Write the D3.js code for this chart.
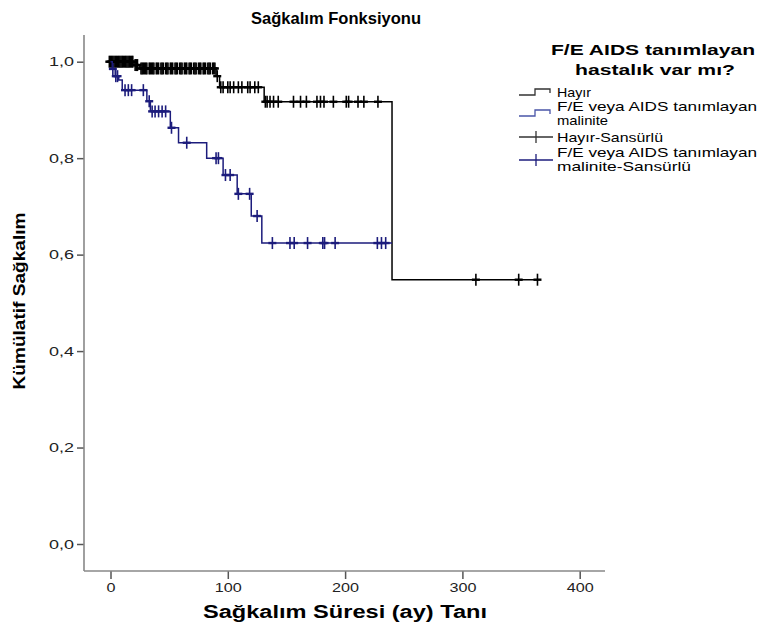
<!DOCTYPE html>
<html>
<head>
<meta charset="utf-8">
<script src="https://cdn.jsdelivr.net/npm/d3@7"></script>
<style>
  body { margin: 0; background: #fff; }
  text { font-family: "Liberation Sans", Arial, sans-serif; }
</style>
</head>
<body>
<svg id="chart" width="770" height="630"></svg>
<script>
// Kaplan-Meier steps
var hayirTimes = [0, 20, 25, 90, 93, 131, 240];
var hayirSurv = [1.0, 0.993, 0.986, 0.970, 0.947, 0.917, 0.548];
var hayirEnd = 364;
var hayirCensored = [-1, 0, 1, 2, 3, 4, 5, 6, 7, 8, 9, 10, 11, 12, 13, 14, 15, 16, 17, 18, 19, 21, 22, 23,
	26, 27, 28, 29, 30, 31, 33, 34, 35, 36, 37, 39, 40, 41, 43, 44, 45, 47, 48, 49, 51, 52, 53, 55, 56,
	57, 59, 60, 61, 63, 64, 65, 67, 68, 69, 71, 72, 73, 75, 76, 77, 79, 80, 81, 83, 84, 85, 87, 88, 89,
	91, 94, 96, 100, 102, 105, 109, 112, 117, 119, 123, 126,
	132, 133.5, 136, 139, 143, 156, 162, 167, 176, 179, 182, 190, 201, 203, 211, 216, 228,
	311.5, 348, 364];

var malTimes = [0, 1.5, 4, 7, 10, 31, 34, 51, 58, 82, 96, 108, 120, 129];
var malSurv = [1.0, 0.985, 0.970, 0.962, 0.941, 0.918, 0.897, 0.863, 0.832, 0.800, 0.765, 0.726, 0.680, 0.624];
var malEnd = 240;
var malCensored = [2, 4.5, 6, 12.4, 15.2, 18, 28, 33, 35.5, 38, 41, 44, 47, 52, 65, 90, 92,
	98, 102, 109, 118.6, 125, 138, 153, 156.6, 168, 181, 182.5, 191.5, 227.5, 231, 234.6];

var xTicks = [0, 100, 200, 300, 400];
var yTicks = [0, 0.2, 0.4, 0.6, 0.8, 1.0];

var legendTitle = ["F/E AIDS tanımlayan", "hastalık var mı?"];
var legendItems = ["Hayır", "F/E veya AIDS tanımlayan|malinite", "Hayır-Sansürlü", "F/E veya AIDS tanımlayan|malinite-Sansürlü"];

var black = "#000", navy = "#1c1c7c";

var svg = d3.select("#chart");
svg.append("rect").attr("width", 770).attr("height", 630).attr("fill", "#fff");

var x = d3.scaleLinear().domain([0, 400]).range([110.5, 579.7]);
var y = d3.scaleLinear().domain([0, 1]).range([544, 61.7]);

// stretched text like the original export
function txt(g, s, px, py, len, size, weight, anchor) {
	return g.append("text").attr("x", px).attr("y", py).text(s)
		.attr("font-size", size).attr("font-weight", weight || "normal")
		.attr("text-anchor", anchor || "start")
		.attr("textLength", len).attr("lengthAdjust", "spacingAndGlyphs")
		.attr("fill", "#000");
}

// axes
var yAxis = svg.append("g").attr("transform", "translate(84,0)")
	.call(d3.axisLeft(y).tickValues(yTicks).tickSize(7).tickPadding(3)
		.tickFormat(d => d3.format(".1f")(d).replace(".", ",")));
var xAxis = svg.append("g").attr("transform", "translate(0,571)")
	.call(d3.axisBottom(x).tickValues(xTicks).tickSize(8).tickPadding(4));
[yAxis, xAxis].forEach(function(a) {
	a.select(".domain").remove();
	a.selectAll("line").attr("stroke", "#555").attr("stroke-width", 1.5);
	a.selectAll("text").attr("font-size", 13).attr("fill", "#222")
		.attr("font-family", "Liberation Sans, Arial, sans-serif");
});
yAxis.selectAll("text").attr("textLength", 25).attr("lengthAdjust", "spacingAndGlyphs");
xAxis.selectAll("text").each(function(d) {
	d3.select(this).attr("textLength", d === 0 ? 9 : 27).attr("lengthAdjust", "spacingAndGlyphs");
});
svg.append("line").attr("x1", 84).attr("x2", 84).attr("y1", 35).attr("y2", 571)
	.attr("stroke", "#888").attr("stroke-width", 1.6);
svg.append("line").attr("x1", 84).attr("x2", 605).attr("y1", 571).attr("y2", 571)
	.attr("stroke", "#888").attr("stroke-width", 1.6);

// KM curves
function stepData(times, surv, end) {
	var pts = times.map((t, i) => [t, surv[i]]);
	pts.push([end, surv[surv.length - 1]]);
	return pts;
}
function survAt(times, surv, t) {
	return surv[Math.max(0, d3.bisectRight(times, t) - 1)];
}
var line = d3.line().x(d => x(d[0])).y(d => y(d[1])).curve(d3.curveStepAfter);

function drawCurve(times, surv, end, cens, color, w) {
	svg.append("path").datum(stepData(times, surv, end))
		.attr("d", line).attr("fill", "none")
		.attr("stroke", color).attr("stroke-width", 1.5);
	var g = svg.append("g").attr("stroke", color).attr("stroke-width", w);
	g.selectAll("line.v").data(cens).join("line").attr("class", "v")
		.attr("x1", d => x(d)).attr("x2", d => x(d))
		.attr("y1", d => y(survAt(times, surv, d)) - 6)
		.attr("y2", d => y(survAt(times, surv, d)) + 6);
	g.selectAll("line.h").data(cens).join("line").attr("class", "h")
		.attr("x1", d => x(d) - 4).attr("x2", d => x(d) + 4)
		.attr("y1", d => y(survAt(times, surv, d)))
		.attr("y2", d => y(survAt(times, surv, d)))
		.attr("stroke-width", w + 0.8);
}
drawCurve(hayirTimes, hayirSurv, hayirEnd, hayirCensored, black, 1.6);
drawCurve(malTimes, malSurv, malEnd, malCensored, navy, 1.6);

// titles
txt(svg, "Sağkalım Fonksiyonu", 336, 24, 170, 16.5, "bold", "middle");
txt(svg, "Sağkalım Süresi (ay) Tanı", 345, 618, 284, 18, "bold", "middle");
txt(svg.append("g").attr("transform", "translate(25,301) rotate(-90)"),
	"Kümülatif Sağkalım", 0, 0, 177, 17, "bold", "middle");

// legend
var lg = svg.append("g");
txt(lg, legendTitle[0], 653, 55, 204, 15, "bold", "middle");
txt(lg, legendTitle[1], 655, 75, 160, 15, "bold", "middle");

var itemY = [97, 111, 142, 157];
var lens = { "Hayır": 34, "F/E veya AIDS tanımlayan": 200, "malinite": 51, "Hayır-Sansürlü": 106, "malinite-Sansürlü": 134 };
legendItems.forEach(function(s, i) {
	s.split("|").forEach(function(part, j) {
		txt(lg, part, 557, itemY[i] + j * 13.5, lens[part], 13);
	});
});
var stepIcon = [[519, 4], [535, 4], [535, -2], [550, -2], [550, 2]];
lg.append("path").attr("d", d3.line()(stepIcon.map(p => [p[0], 91 + p[1]])))
	.attr("fill", "none").attr("stroke", "#333").attr("stroke-width", 1.3);
lg.append("path").attr("d", d3.line()(stepIcon.map(p => [p[0], 112 + p[1]])))
	.attr("fill", "none").attr("stroke", "#4a55a8").attr("stroke-width", 1.3);
[[137, "#333"], [160, navy]].forEach(function(c) {
	lg.append("line").attr("x1", 519).attr("x2", 553).attr("y1", c[0]).attr("y2", c[0])
		.attr("stroke", c[1]).attr("stroke-width", 1.3);
	lg.append("line").attr("x1", 536).attr("x2", 536).attr("y1", c[0] - 6).attr("y2", c[0] + 6)
		.attr("stroke", c[1]).attr("stroke-width", 1.3);
});
</script>
</body>
</html>
